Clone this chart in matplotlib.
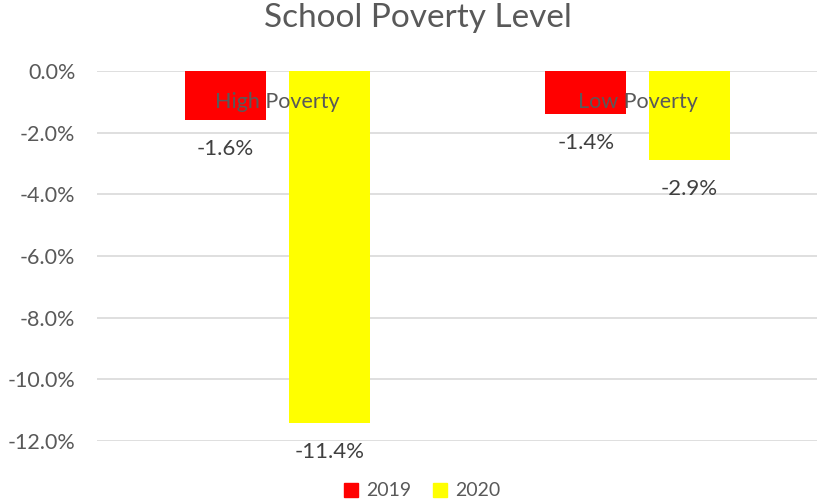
import matplotlib
matplotlib.use("Agg")
import matplotlib.pyplot as plt
from matplotlib.ticker import FuncFormatter
from matplotlib.patches import Patch

categories = ["High Poverty", "Low Poverty"]
series_names = ["2019", "2020"]
values_2019 = [-1.6, -1.4]
values_2020 = [-11.4, -2.9]
yticks = [0, -2, -4, -6, -8, -10, -12]

plt.rcParams['font.family'] = ['Lato', 'DejaVu Sans']
TXT = '#595959'

fig = plt.figure(figsize=(8.17, 5.04), dpi=100)
ax = fig.add_axes([97/817, 1-441/504, (818-97)/817, (441-71)/504])

x = list(range(len(categories)))
w = 0.2244
off = 0.144
colors = ['#FF0000', '#FFFF00']
for vals, o, c in [(values_2019, -off, colors[0]), (values_2020, off, colors[1])]:
    xs = [xi + o for xi in x]
    ax.bar(xs, vals, width=w, color=c, zorder=3)
    for xi, v in zip(xs, vals):
        ax.annotate(f"{v:.1f}%", (xi, v), xytext=(0, -29), textcoords='offset pixels',
                    ha='center', va='center', fontsize=16, color='#404040')

ax.set_xlim(-0.5, 1.5)
ax.set_ylim(-12, 0)
ax.set_yticks(yticks)
ax.yaxis.set_major_formatter(FuncFormatter(lambda v, p: f"{v:.1f}%"))
ax.tick_params(axis='y', length=0, pad=15.5, labelsize=15.5, labelcolor=TXT)
ax.set_xticks([])
ax.grid(axis='y', color='#D9D9D9', linewidth=1.2, zorder=0)
for s in ax.spines.values():
    s.set_visible(False)

for xi, name in zip(x, categories):
    ax.text(xi, -1.0, name, ha='center', va='center', fontsize=15.5, color=TXT, zorder=5)

fig.text(417.5/817, 1-18/504, "School Poverty Level", ha='center', va='center', fontsize=24, color=TXT)

handles = [Patch(color=colors[0]), Patch(color=colors[1])]
fig.legend(handles, series_names, loc='center', bbox_to_anchor=(422/817, 1-491/504), ncol=2,
           frameon=False, fontsize=14, labelcolor=TXT, handlelength=0.75, handleheight=0.75,
           handletextpad=0.4, columnspacing=1.1)

fig.savefig("out.png", dpi=100)
